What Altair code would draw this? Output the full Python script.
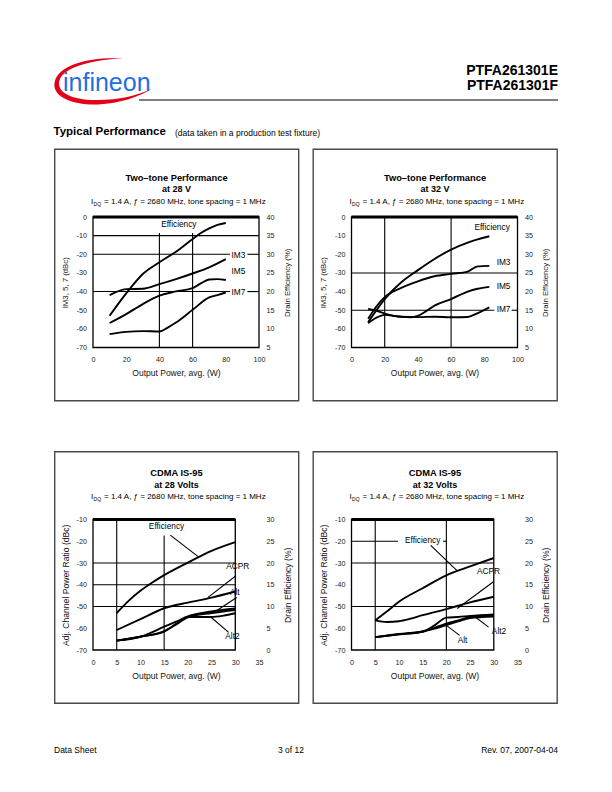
import altair as alt
import pandas as pd

FONT = "Liberation Sans"
W, H = 166, 130.5
COL_GAP, ROW_GAP = 92.5, 171.5
ORIGIN = (93.0, 216.5)  # page position of the first plot area

# ---------------- data ----------------
# Panel 1: Two-tone performance at 28 V
P1_EFF_X = [10, 20, 30, 40, 50, 60, 65, 70, 75, 80]
P1_EFF = [13.5, 19.5, 24.7, 27.85, 30.7, 34.1, 35.7, 36.95, 37.9, 38.4]
P1_IM3_X = [10, 20, 30, 40, 50, 60, 70, 80]
P1_IM3 = [-41.9, -38.7, -38.5, -36.0, -33.3, -30.3, -27.0, -22.6]
P1_IM5_X = [10, 20, 30, 40, 50, 60, 65, 70, 75, 80]
P1_IM5 = [-56.9, -52.1, -46.7, -42.2, -39.9, -38.1, -35.6, -33.5, -33.3, -33.8]
P1_IM7_X = [10, 20, 30, 40, 45, 50, 60, 70, 75, 80]
P1_IM7 = [-62.8, -61.6, -61.2, -61.4, -59.3, -56.6, -49.8, -43.1, -41.9, -40.5]
P1_LABELS = ["Efficiency", "IM3", "IM5", "IM7"]
P1_LABEL_X = [51.7, 87.6, 87.6, 87.6]
P1_LABEL_Y = [-4.3, -20.9, -29.5, -40.5]
P1_GRID = [(0, -10, 100, -10), (0, -20, 82.5, -20), (93, -20, 100, -20),
           (0, -40, 82.5, -40), (93, -40, 100, -40),
           (40, -8.6, 40, -70), (60, -8.6, 60, -70)]

# Panel 2: Two-tone performance at 32 V
P2_EFF_X = [10, 20, 30, 40, 50, 60, 70, 76, 83]
P2_EFF = [11.75, 18.0, 22.5, 25.75, 28.75, 31.25, 33.1, 34.0, 34.85]
P2_IM3_X = [10, 15, 20, 30, 40, 50, 60, 70, 76, 83]
P2_IM3 = [-54.6, -48.0, -43.0, -38.0, -34.5, -31.8, -30.5, -29.3, -26.5, -26.2]
P2_IM5_X = [10, 15, 20, 25, 30, 35, 40, 45, 50, 60, 70, 76, 83]
P2_IM5 = [-57.0, -54.0, -52.5, -53.0, -53.5, -53.8, -53.0, -50.5, -47.5, -44.0, -40.0, -38.5, -37.5]
P2_IM7_X = [10, 15, 20, 30, 40, 50, 60, 70, 75, 83]
P2_IM7 = [-49.3, -50.3, -51.8, -53.5, -53.7, -53.5, -53.8, -53.6, -52.0, -48.5]
P2_LABELS = ["Efficiency", "IM3", "IM5", "IM7"]
P2_LABEL_X = [84.7, 91.6, 91.6, 91.6]
P2_LABEL_Y = [-5.7, -24.9, -37.6, -50.1]
P2_GRID = [(0, -30, 100, -30), (0, -50, 86, -50), (96.5, -50, 100, -50),
           (20, 0, 20, -70), (60, 0, 60, -70)]

# Panel 3: CDMA IS-95 at 28 Volts
P3_EFF_X = [5, 7.5, 10, 12.5, 15, 20, 25, 30]
P3_EFF = [8.5, 11.3, 13.6, 15.5, 17.2, 20.1, 22.8, 24.8]
P3_ACPR_X = [5, 10, 15, 20, 25, 30]
P3_ACPR = [-60.8, -55.8, -50.8, -48.2, -45.9, -43.1]
P3_ALT_X = [5, 10, 15, 17.5, 20, 25, 30]
P3_ALT = [-65.7, -63.9, -59.3, -57.0, -54.6, -52.3, -50.9]
P3_ALTB = [-65.7, -63.9, -61.3, -58.3, -55.0, -53.0, -51.6]
P3_ALT2_X = [5, 10, 15, 17.5, 20, 25, 27.5, 30]
P3_ALT2 = [-65.7, -63.9, -61.5, -58.0, -54.8, -54.8, -54.2, -53.1]
P3_LABELS = ["Efficiency", "ACPR", "Alt", "Alt2"]
P3_LABEL_X = [15.5, 30.5, 29.9, 29.4]
P3_LABEL_Y = [-13.5, -31.8, -43.6, -64.2]
P3_POINTERS = [(16.3, -17.2, 22.3, -27.3), (30.0, -36.1, 24.2, -45.9),
               (30.3, -45.9, 26.2, -51.7), (28.6, -61.9, 24.7, -54.6)]
P3_GRID = [(0, -30, 30, -30), (0, -40, 30, -40), (0, -50, 30, -50),
           (5, -10, 5, -70), (15, -17.3, 15, -70)]

# Panel 4: CDMA IS-95 at 32 Volts
P4_EFF_X = [5, 7.5, 10, 15, 20, 25, 30]
P4_EFF = [6.8, 8.9, 11.1, 14.2, 17.15, 19.2, 21.15]
P4_ACPR_X = [5, 7.5, 10, 12.5, 15, 20, 25, 30]
P4_ACPR = [-56.4, -57.1, -56.8, -55.6, -54.0, -51.2, -48.1, -45.5]
P4_ALT_X = [5, 10, 15, 17.5, 20, 22.5, 25, 30]
P4_ALT = [-64.1, -62.6, -61.5, -58.7, -55.1, -54.8, -54.3, -53.6]
P4_ALTB = [-64.1, -62.8, -61.5, -59.8, -57.9, -56.4, -54.8, -54.0]
P4_ALT2 = [-64.1, -62.8, -61.6, -60.2, -58.5, -56.8, -55.3, -54.6]
P4_LABELS = ["Efficiency", "ACPR", "Alt", "Alt2"]
P4_LABEL_X = [15.0, 28.9, 23.4, 31.1]
P4_LABEL_Y = [-19.9, -34.3, -65.7, -61.8]
P4_POINTERS = [(16.7, -21.9, 22.3, -33.6), (30.0, -38.5, 22.3, -50.9),
               (22.8, -63.3, 19.5, -57.9), (28.9, -59.5, 26.1, -54.8)]
P4_GRID = [(0, -20, 9.8, -20), (19.3, -20, 20, -20), (0, -30, 30, -30), (0, -50, 30, -50),
           (5, -10, 5, -70), (20, -10, 20, -70)]

SUBTITLE = "= 1.4 A,  \u0192 = 2680 MHz, tone spacing = 1 MHz"

ONE = pd.DataFrame({"k": [0]})


def px(x):
    return x - ORIGIN[0]


def py(y):
    return y - ORIGIN[1]


def series(parts):
    return pd.concat([pd.DataFrame({"x": xs, "y": ys, "s": n}) for n, xs, ys in parts],
                     ignore_index=True)


def segs(rows):
    return pd.DataFrame(rows, columns=["x", "y", "x2", "y2"])


def txt(text, x, y, size, weight="normal", align="left", baseline="middle",
        color="black", font=FONT):
    return alt.Chart(ONE).mark_text(
        text=text, fontSize=size, fontWeight=weight, align=align, baseline=baseline,
        color=color, font=font).encode(x=alt.value(x), y=alt.value(y))


def box():
    return alt.Chart(ONE).mark_rect(filled=False, color="#4a4a4a", strokeWidth=1.4).encode(
        x=alt.value(-38.3), x2=alt.value(205.7), y=alt.value(-67.8), y2=alt.value(183.7))


def titles(t1, t2, y1, y2, y3):
    return [
        txt(t1, W / 2 + 0.5, y1, 9.3, "bold", "center"),
        txt(t2, W / 2 + 0.5, y2, 9, "bold", "center"),
        txt("I", -2, y3, 8),
        txt("DQ", 0.6, y3 + 2.4, 5),
        txt(SUBTITLE, 11, y3, 8),
    ]


def panel(cfg):
    xs = alt.Scale(domain=cfg["xdom"], nice=False, zero=False)
    ls = alt.Scale(domain=cfg["ldom"], nice=False, zero=False)
    rs = alt.Scale(domain=cfg["rdom"], nice=False, zero=False)

    common = dict(domain=False, ticks=False, tickSize=0, tickOpacity=0, tickWidth=0,
                  grid=False, labelFont=FONT,
                  labelFontSize=7.2, labelColor="#222", labelOverlap=False,
                  labelExpr="'' + datum.value",
                  titleFont=FONT, titleFontWeight="normal", titleColor="#111",
                  titleAlign="center", titleBaseline="middle", zindex=1)
    xaxis = alt.Axis(values=cfg["xticks"], labelPadding=8, labelFlush=False,
                     title="Output Power, avg. (W)", titleFontSize=8.5,
                     titleX=W / 2, titleY=25, **common)
    laxis = alt.Axis(values=cfg["lticks"], orient="left", labelPadding=6.5,
                     title=cfg["ltitle"], titleFontSize=cfg["ytsize"], titleAngle=270,
                     titleX=-28, titleY=H / 2, **common)
    raxis = alt.Axis(values=cfg["rticks"], orient="right", labelPadding=7,
                     title="Drain Efficiency (%)", titleFontSize=cfg["ytsize"], titleAngle=270,
                     titleX=28, titleY=H / 2, **common)

    # every layer repeats the same axis definitions so they merge cleanly
    def X(field):
        return alt.X(f"{field}:Q", scale=xs, axis=xaxis)

    def Y(field):
        return alt.Y(f"{field}:Q", scale=ls, axis=laxis)

    # decorations without scales first (white page, box, titles)
    layers = list(cfg.get("extra", [])) + [box()] + cfg["titles"]

    layers.append(alt.Chart(segs(cfg["grid"])).mark_rule(color="black", strokeWidth=1.1).encode(
        x=X("x"), x2="x2:Q", y=Y("y"), y2="y2:Q"))

    fr = pd.DataFrame([cfg["frame"]], columns=["x", "x2", "y", "y2"])
    layers.append(alt.Chart(fr).mark_rect(filled=False, color="black", strokeWidth=1.3).encode(
        x=X("x"), x2="x2:Q", y=Y("y"), y2="y2:Q"))
    layers.append(alt.Chart(fr).mark_rule(color="black", strokeWidth=3).encode(
        x=X("x"), x2="x2:Q", y=Y("y2")))

    if cfg.get("pointers"):
        layers.append(alt.Chart(segs(cfg["pointers"])).mark_rule(color="black", strokeWidth=1.1).encode(
            x=X("x"), x2="x2:Q", y=Y("y"), y2="y2:Q"))

    layers.append(alt.Chart(series(cfg["series"])).mark_line(
        color="black", strokeWidth=1.9, interpolate="monotone").encode(
        x=X("x"), y=Y("y"), detail="s:N"))

    lab = pd.DataFrame({"t": cfg["labels"], "x": cfg["label_x"], "y": cfg["label_y"]})
    layers.append(alt.Chart(lab).mark_text(font=FONT, fontSize=8.3, color="black").encode(
        x=X("x"), y=Y("y"), text="t:N"))

    left = alt.layer(*layers)
    eff = alt.Chart(pd.DataFrame({"x": cfg["eff_x"], "e": cfg["eff"]})).mark_line(
        color="black", strokeWidth=1.9, interpolate="monotone").encode(
        x=X("x"), y=alt.Y("e:Q", scale=rs, axis=raxis))
    return alt.layer(left, eff).resolve_scale(y="independent").properties(width=W, height=H)


# ---------------- page decorations (placed relative to first panel) ----------------
SWOOSH = ("M123,58 C90,56,60,64,55,80 C50,97,75,105,98,104 C120,103,140,96,152,88 "
          "C138,95,118,99.5,98,99.5 C72,100,56,92,59.5,80 C63,67,92,59,123,58 Z")

page = [
    alt.Chart(ONE).mark_rect(color="white").encode(
        x=alt.value(px(0)), x2=alt.value(px(612)), y=alt.value(py(0)), y2=alt.value(py(792))),
    alt.Chart(ONE).mark_point(shape=SWOOSH, size=4, filled=True, color="#e2001a",
                              opacity=1, strokeWidth=0).encode(
        x=alt.value(px(0)), y=alt.value(py(0))),
    txt("infineon", px(63), py(90), 25, color="#1f6fe0", baseline="alphabetic"),
    txt("PTFA261301E", px(558), py(70), 14, "bold", "right"),
    txt("PTFA261301F", px(558), py(85), 14, "bold", "right"),
    alt.Chart(ONE).mark_rule(color="black", strokeWidth=1.2).encode(
        x=alt.value(px(139)), x2=alt.value(px(558)), y=alt.value(py(99.5))),
    txt("Typical Performance", px(53.5), py(131), 11.5, "bold"),
    txt("(data taken in a production test fixture)", px(175), py(132), 8.5),
    txt("Data Sheet", px(54), py(749), 8.5),
    txt("3 of 12", px(291), py(749), 8.5, align="center"),
    txt("Rev. 07, 2007-04-04", px(558), py(749), 8.5, align="right"),
]

two_tone = dict(xdom=[0, 100], xticks=[0, 20, 40, 60, 80, 100],
                ldom=[-70, 0], lticks=[-70, -60, -50, -40, -30, -20, -10, 0],
                rdom=[5, 40], rticks=[5, 10, 15, 20, 25, 30, 35, 40],
                ltitle="IM3, 5, 7 (dBc)", ytsize=7.8, frame=(0, 100, -70, 0))
cdma = dict(xdom=[0, 35], xticks=[0, 5, 10, 15, 20, 25, 30, 35],
            ldom=[-70, -10], lticks=[-70, -60, -50, -40, -30, -20, -10],
            rdom=[0, 30], rticks=[0, 5, 10, 15, 20, 25, 30],
            ltitle="Adj. Channel Power Ratio (dBc)", ytsize=8.6, frame=(0, 30, -70, -10))

p1 = panel(dict(two_tone, extra=page,
                titles=titles("Two\u2013tone Performance", "at 28 V", -39, -28, -15.3),
                grid=P1_GRID,
                series=[("IM3", P1_IM3_X, P1_IM3), ("IM5", P1_IM5_X, P1_IM5), ("IM7", P1_IM7_X, P1_IM7)],
                eff_x=P1_EFF_X, eff=P1_EFF,
                labels=P1_LABELS, label_x=P1_LABEL_X, label_y=P1_LABEL_Y))
p2 = panel(dict(two_tone,
                titles=titles("Two\u2013tone Performance", "at 32 V", -39, -28, -15.3),
                grid=P2_GRID,
                series=[("IM3", P2_IM3_X, P2_IM3), ("IM5", P2_IM5_X, P2_IM5), ("IM7", P2_IM7_X, P2_IM7)],
                eff_x=P2_EFF_X, eff=P2_EFF,
                labels=P2_LABELS, label_x=P2_LABEL_X, label_y=P2_LABEL_Y))
p3 = panel(dict(cdma,
                titles=titles("CDMA IS-95", "at 28 Volts", -46.6, -35, -22.6),
                grid=P3_GRID, pointers=P3_POINTERS,
                series=[("ACPR", P3_ACPR_X, P3_ACPR), ("Alt", P3_ALT_X, P3_ALT),
                        ("Alt b", P3_ALT_X, P3_ALTB), ("Alt2", P3_ALT2_X, P3_ALT2)],
                eff_x=P3_EFF_X, eff=P3_EFF,
                labels=P3_LABELS, label_x=P3_LABEL_X, label_y=P3_LABEL_Y))
p4 = panel(dict(cdma,
                titles=titles("CDMA IS-95", "at 32 Volts", -46.6, -35, -22.6),
                grid=P4_GRID, pointers=P4_POINTERS,
                series=[("ACPR", P4_ACPR_X, P4_ACPR), ("Alt", P4_ALT_X, P4_ALT),
                        ("Alt b", P4_ALT_X, P4_ALTB), ("Alt2", P4_ALT_X, P4_ALT2)],
                eff_x=P4_EFF_X, eff=P4_EFF,
                labels=P4_LABELS, label_x=P4_LABEL_X, label_y=P4_LABEL_Y))

chart = alt.concat(p1, p2, p3, p4, columns=2,
                   spacing={"row": ROW_GAP, "column": COL_GAP},
                   bounds="flush").configure_view(stroke=None).properties(
    padding=0, autosize=alt.AutoSizeParams(type="pad"), background="white")

chart.save("out.html", embed_options={"renderer": "svg", "actions": False})
